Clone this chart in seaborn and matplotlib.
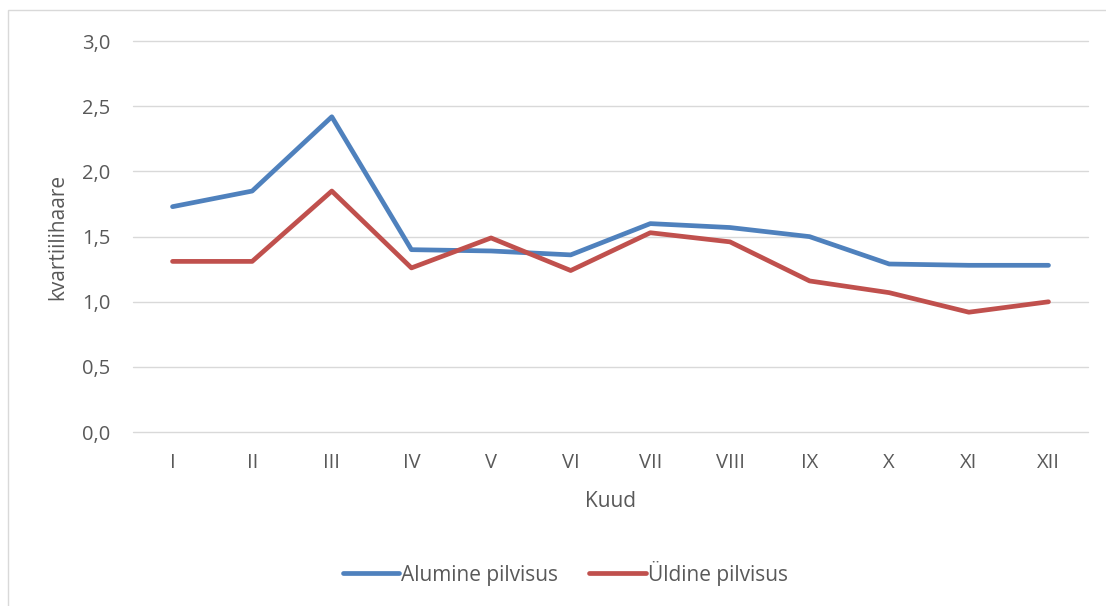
import numpy as np
import pandas as pd
import matplotlib
matplotlib.use("Agg")
import matplotlib.pyplot as plt
import seaborn as sns
from matplotlib.patches import Rectangle
from matplotlib.lines import Line2D

months = ["I", "II", "III", "IV", "V", "VI", "VII", "VIII", "IX", "X", "XI", "XII"]
alumine = [1.73, 1.85, 2.42, 1.40, 1.39, 1.36, 1.60, 1.57, 1.50, 1.29, 1.28, 1.28]
uldine = [1.31, 1.31, 1.85, 1.26, 1.49, 1.24, 1.53, 1.46, 1.16, 1.07, 0.92, 1.00]
series_names = ["Alumine pilvisus", "Üldine pilvisus"]
colors = ["#4F81BD", "#C0504D"]

df = pd.DataFrame({
    "pos": list(range(len(months))) * 2,
    "value": alumine + uldine,
    "series": [series_names[0]] * len(months) + [series_names[1]] * len(months),
})

sns.set_style("white")
plt.rcParams['font.family'] = ['Open Sans', 'DejaVu Sans']

fig = plt.figure(figsize=(11.06, 6.06), dpi=100)
ax = fig.add_axes([0.120, 0.287, 0.864, 0.645])

sns.lineplot(data=df, x="pos", y="value", hue="series",
             palette=colors, linewidth=3.4, ax=ax, legend=False,
             solid_capstyle="round")

ax.set_xlim(-0.5, 11.5)
ax.set_ylim(0, 3.0)
yt = np.arange(0, 3.01, 0.5)
ax.set_yticks(yt)
ax.set_yticklabels([f"{v:.1f}".replace(".", ",") for v in yt])
ax.set_xticks(range(len(months)))
ax.set_xticklabels(months)
ax.grid(axis="y", color="#D9D9D9", linewidth=1)
for gl in ax.get_ygridlines():
    gl.set_clip_on(False)
ax.set_axisbelow(True)
for s in ax.spines.values():
    s.set_visible(False)
ax.tick_params(axis="both", length=0, labelsize=14.5, colors="#595959")
ax.tick_params(axis="x", pad=15)
ax.tick_params(axis="y", pad=16)

ax.set_xlabel("Kuud", fontsize=15, color="#595959", labelpad=13)
ax.set_ylabel("kvartiilihaare", fontsize=15, color="#595959", labelpad=10)

handles = [Line2D([0], [0], color=c, lw=3.4, solid_capstyle="round") for c in colors]
fig.legend(handles, series_names, loc="center", bbox_to_anchor=(0.511, 0.054),
           ncol=2, frameon=False, fontsize=15, handlelength=2.7,
           handletextpad=0.1, columnspacing=1.5, labelcolor="#595959")

# chart area border
fig.patches.append(Rectangle((8 / 1106, -0.01), 1.2, 1 - 10 / 606 + 0.01,
                             transform=fig.transFigure, fill=False,
                             edgecolor="#D9D9D9", linewidth=1))

fig.savefig("out.png", dpi=100)
